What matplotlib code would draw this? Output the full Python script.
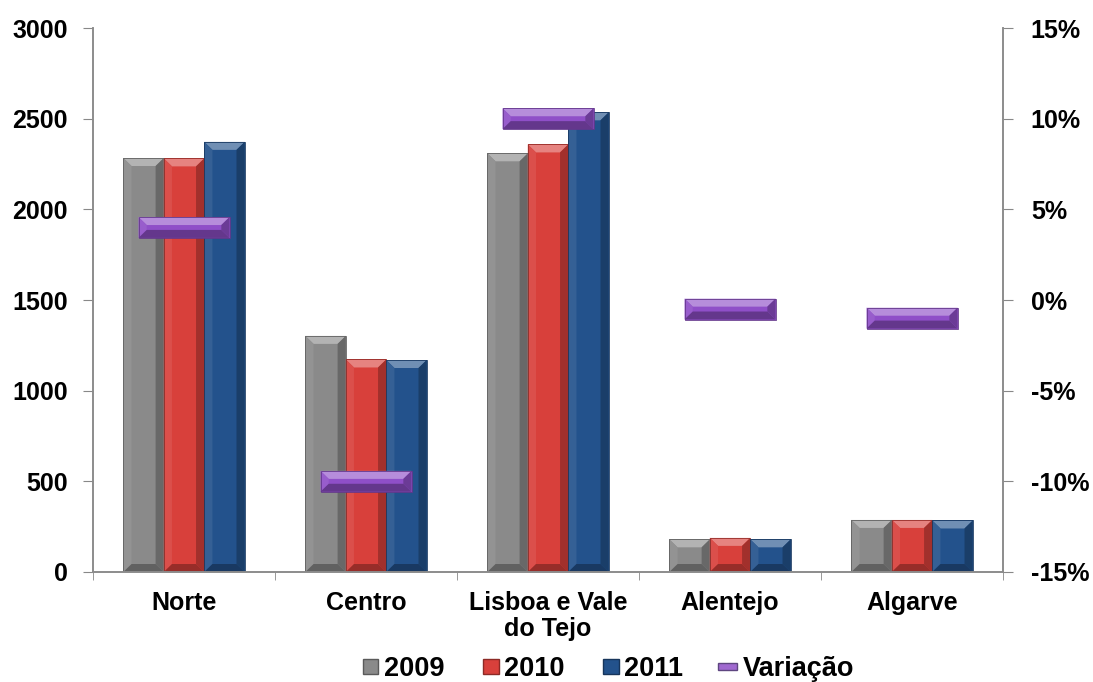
import numpy as np
import matplotlib
matplotlib.use("Agg")
import matplotlib.pyplot as plt
from matplotlib.patches import Polygon, Patch, Rectangle
from matplotlib.legend_handler import HandlerPatch
from matplotlib.colors import to_rgb

plt.rcParams["font.family"] = ["Liberation Sans", "DejaVu Sans"]
plt.rcParams["font.weight"] = "bold"

regions = ["Norte", "Centro", "Lisboa e Vale\ndo Tejo", "Alentejo", "Algarve"]
years = ["2009", "2010", "2011"]
v2009 = [2283, 1302, 2309, 180, 287]
v2010 = [2281, 1172, 2358, 188, 287]
v2011 = [2372, 1169, 2535, 180, 284]
variacao = [4.0, -10.0, 10.0, -0.5, -1.0]  # %

colors = ["#8a8a8a", "#d8403b", "#23528c"]
purple = "#8f4fc8"
FS = 18


def shade(c, f):
    r = np.array(to_rgb(c))
    if f > 0:
        return tuple(r + (1 - r) * f)
    return tuple(r * (1 + f))


def bevel(ax, patch, bx, by, color):
    x0, y0 = patch.get_x(), patch.get_y()
    w, h = patch.get_width(), patch.get_height()
    x1, y1 = x0 + w, y0 + h
    b = min(by, h / 2.2)
    sx = bx * b / by
    faces = [
        ([(x0, y1), (x1, y1), (x1 - sx, y1 - b), (x0 + sx, y1 - b)], 0.35),
        ([(x0, y0), (x0, y1), (x0 + sx, y1 - b), (x0 + sx, y0 + b)], 0.08),
        ([(x1, y0), (x1, y1), (x1 - sx, y1 - b), (x1 - sx, y0 + b)], -0.25),
        ([(x0, y0), (x1, y0), (x1 - sx, y0 + b), (x0 + sx, y0 + b)], -0.3),
    ]
    for pts, f in faces:
        ax.add_patch(Polygon(pts, closed=True, facecolor=shade(color, f),
                             edgecolor="none", zorder=patch.get_zorder() + 0.1))
    ax.add_patch(Polygon([(x0, y0), (x1, y0), (x1, y1), (x0, y1)], closed=True,
                         fill=False, edgecolor=shade(color, -0.3), lw=0.6,
                         zorder=patch.get_zorder() + 0.2))


fig = plt.figure(figsize=(10.93, 6.82), dpi=100)
ax = fig.add_axes([0.0851, 0.1613, 0.8326, 0.7976])
ax2 = ax.twinx()

x = np.arange(len(regions))
bw = 1 / 4.5
for i, (vals, c) in enumerate(zip([v2009, v2010, v2011], colors)):
    bars = ax.bar(x + (i - 1) * bw, vals, width=bw, color=c, zorder=2)
    for p in bars:
        bevel(ax, p, 0.045, 44, c)

# variation shown as flat bar markers on the right axis
mh = 1.15
vbars = ax2.bar(x, [mh] * len(x), bottom=np.array(variacao) - mh / 2,
                width=0.5, color=purple, zorder=3)
for p in vbars:
    bevel(ax2, p, 0.045, 0.44, purple)

ax.set_xlim(-0.5, len(regions) - 0.5)
ax.set_ylim(0, 3000)
ax2.set_ylim(-15, 15)
ax.set_yticks(np.arange(0, 3001, 500))
ax2.set_yticks(np.arange(-15, 16, 5))
ax2.set_yticklabels([f"{v}%" for v in range(-15, 16, 5)])

ax.set_xticks(x)
ax.set_xticklabels(regions, linespacing=1.08)
ax.set_xticks(np.arange(-0.5, len(regions), 1), minor=True)
ax.tick_params(axis="x", which="major", length=0, pad=14, labelsize=FS)
ax.tick_params(axis="x", which="minor", length=6, color="#888888", direction="out")
ax.tick_params(axis="y", length=7, color="#888888", labelsize=FS, pad=11)
ax2.tick_params(axis="y", length=7, color="#888888", labelsize=FS, pad=13)

for a in (ax, ax2):
    a.spines["top"].set_visible(False)
    for s in ("left", "right", "bottom"):
        a.spines[s].set_color("#8c8c8c")
        a.spines[s].set_linewidth(1.2)


def square_handle(legend, orig_handle, xdescent, ydescent, width, height, fontsize):
    s = height
    return Rectangle((width - s, -ydescent), s, s)


def flat_handle(legend, orig_handle, xdescent, ydescent, width, height, fontsize):
    h = height * 0.42
    return Rectangle((-xdescent - width * 0.3, -ydescent + (height - h) / 2),
                     width * 1.3, h)


handles = [Patch(facecolor=c, edgecolor=shade(c, -0.35)) for c in colors]
vhandle = Patch(facecolor=shade(purple, 0.15), edgecolor="#5e4680")
handles.append(vhandle)
hmap = {h: HandlerPatch(patch_func=square_handle) for h in handles[:3]}
hmap[vhandle] = HandlerPatch(patch_func=flat_handle)
fig.legend(handles, years + ["Variação"], loc="lower center", ncol=4,
           frameon=False, fontsize=19.5, bbox_to_anchor=(0.557, -0.036),
           handlelength=0.55, handleheight=0.5, handletextpad=0.2,
           columnspacing=1.45, handler_map=hmap)

fig.savefig("out.png", dpi=100)
